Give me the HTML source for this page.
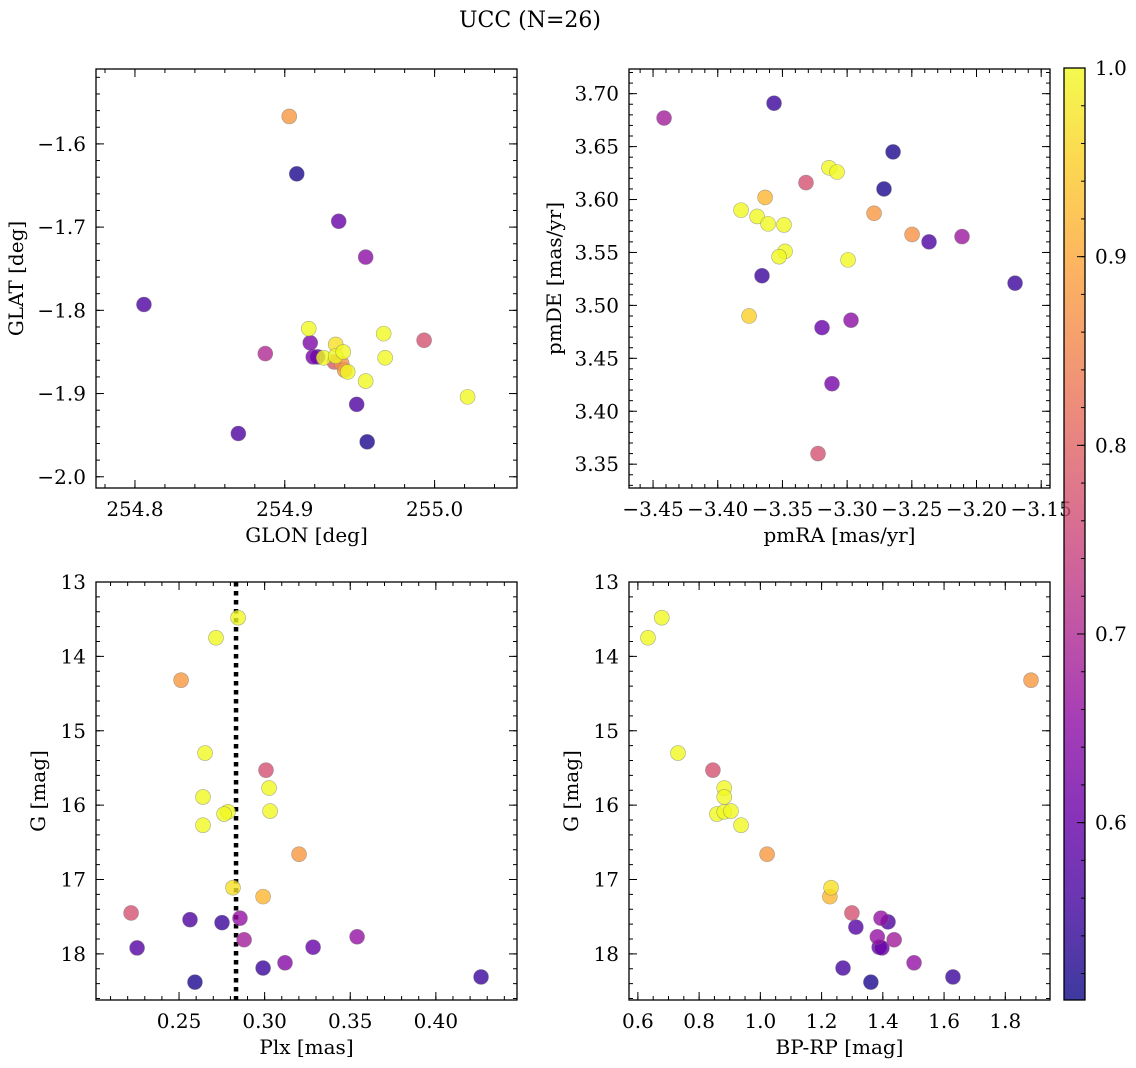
<!DOCTYPE html>
<html><head><meta charset="utf-8">
<style>
body{margin:0;background:#fff;}
svg{display:block;font-family:"DejaVu Serif","Liberation Serif",serif;}
</style></head>
<body>
<svg id="fig" width="1136" height="1068" viewBox="0 0 1136 1068" xmlns="http://www.w3.org/2000/svg">
<text x="530" y="27" font-size="22" text-anchor="middle">UCC (N=26)</text>
</svg>
<script>
// ---- data ----
const glon = [254.903,254.908,254.936,254.954,254.806,254.887,254.869,254.948,254.955,254.993,255.022,254.916,254.917,254.919,254.922,254.926,254.934,254.934,254.939,254.933,254.938,254.940,254.942,254.966,254.967,254.954];
const glat = [-1.567,-1.636,-1.693,-1.736,-1.793,-1.852,-1.948,-1.913,-1.958,-1.836,-1.904,-1.822,-1.839,-1.856,-1.856,-1.857,-1.841,-1.855,-1.850,-1.862,-1.864,-1.872,-1.874,-1.828,-1.857,-1.885];
const probA = [0.88,0.52,0.6,0.65,0.57,0.7,0.57,0.57,0.52,0.77,1.0,1.0,0.63,0.62,0.58,1.0,0.97,1.0,1.0,0.78,0.87,0.88,1.0,1.0,1.0,1.0];

const pmra = [-3.4415,-3.3565,-3.2645,-3.2715,-3.3318,-3.314,-3.3078,-3.3634,-3.382,-3.3696,-3.3611,-3.3488,-3.2792,-3.2498,-3.2367,-3.2112,-3.348,-3.3526,-3.2993,-3.3658,-3.1702,-3.3758,-3.297,-3.3194,-3.3117,-3.3225];
const pmde = [3.677,3.691,3.645,3.610,3.616,3.630,3.626,3.602,3.590,3.584,3.577,3.576,3.587,3.567,3.560,3.565,3.551,3.546,3.543,3.528,3.521,3.490,3.486,3.479,3.426,3.360];
const probB = [0.68,0.55,0.52,0.52,0.77,1.0,1.0,0.92,1.0,1.0,1.0,1.0,0.88,0.87,0.57,0.67,1.0,1.0,1.0,0.55,0.55,0.95,0.65,0.6,0.62,0.77];

const plx = [0.2845,0.2716,0.2512,0.2652,0.3008,0.3026,0.2640,0.3032,0.2786,0.2763,0.2640,0.3201,0.2815,0.2991,0.2220,0.2564,0.2751,0.2856,0.2880,0.3540,0.2255,0.3283,0.3119,0.2991,0.2593,0.4264];
const gmagC = [13.48,13.75,14.32,15.30,15.53,15.77,15.89,16.08,16.09,16.12,16.27,16.66,17.11,17.23,17.45,17.54,17.58,17.52,17.81,17.77,17.92,17.91,18.12,18.19,18.38,18.31];
const probC = [1.0,1.0,0.88,1.0,0.77,1.0,1.0,1.0,1.0,1.0,1.0,0.88,0.97,0.92,0.77,0.57,0.55,0.66,0.68,0.66,0.58,0.6,0.64,0.55,0.52,0.55];
const plxLine = [0.2833];

const bprp = [0.633,0.678,0.731,1.884,0.845,0.882,0.882,0.858,0.882,0.904,0.937,1.022,1.231,1.227,1.299,1.312,1.394,1.417,1.437,1.382,1.388,1.397,1.502,1.27,1.361,1.629];
const gmagD = [13.75,13.48,15.30,14.32,15.53,15.77,15.89,16.12,16.09,16.08,16.27,16.66,17.11,17.23,17.45,17.64,17.52,17.57,17.81,17.77,17.91,17.92,18.12,18.19,18.38,18.31];
const probD = [1.0,1.0,1.0,0.88,0.77,1.0,1.0,1.0,1.0,1.0,1.0,0.88,0.97,0.92,0.77,0.58,0.66,0.57,0.68,0.66,0.6,0.6,0.66,0.56,0.52,0.55];

const ticksTLx = [254.8,254.9,255.0], ticksTLy = [-1.6,-1.7,-1.8,-1.9,-2.0];
const ticksTRx = [-3.45,-3.40,-3.35,-3.30,-3.25,-3.20,-3.15], ticksTRy = [3.35,3.40,3.45,3.50,3.55,3.60,3.65,3.70];
const ticksBLx = [0.25,0.30,0.35,0.40], ticksGy = [13,14,15,16,17,18];
const ticksBRx = [0.6,0.8,1.0,1.2,1.4,1.6,1.8];
const cbTicks = [0.6,0.7,0.8,0.9,1.0];

// ---- rendering ----
const NS = "http://www.w3.org/2000/svg";
const svg = document.getElementById('fig');
function mk(tag, attrs, parent){const e=document.createElementNS(NS,tag);for(const k in attrs)e.setAttribute(k,attrs[k]);(parent||svg).appendChild(e);return e;}
const stops=["#0d0887","#41049d","#6a00a8","#8f0da4","#b12a90","#cc4778","#e16462","#f2844b","#fca636","#fcce25","#f0f921"];
function hex(h){return [1,3,5].map(i=>parseInt(h.substr(i,2),16));}
function plasma(t){t=Math.max(0,Math.min(1,t));const f=t*10,i=Math.min(9,Math.floor(f)),r=f-i;const a=hex(stops[i]),b=hex(stops[i+1]);return "rgb("+a.map((v,k)=>Math.round(v+(b[k]-v)*r)).join(",")+")";}
const VMIN=0.506,VMAX=1.0;
function fmt(v,d){return (v<0?"\u2212":"")+Math.abs(v).toFixed(d);}
const FS=20;

function panel(p){
  const g=mk('g',{});  
  const sx=v=>p.x0+(v-p.xmin)/(p.xmax-p.xmin)*(p.x1-p.x0);
  const sy=v=>p.inv? p.y0+(v-p.ymin)/(p.ymax-p.ymin)*(p.y1-p.y0) : p.y1-(v-p.ymin)/(p.ymax-p.ymin)*(p.y1-p.y0);
  const tg=mk('g',{stroke:'#000','stroke-width':1},g);
   
  const eps=1e-9;
  for(let v=Math.ceil(p.xmin/p.xminor)*p.xminor; v<=p.xmax+eps; v+=p.xminor){const X=sx(v);
    mk('line',{x1:X,x2:X,y1:p.y1,y2:p.y1-4},tg);mk('line',{x1:X,x2:X,y1:p.y0,y2:p.y0+4},tg);}
  for(let v=Math.ceil(p.ymin/p.yminor)*p.yminor; v<=p.ymax+eps; v+=p.yminor){const Y=sy(v);
    mk('line',{x1:p.x0,x2:p.x0+4,y1:Y,y2:Y},tg);mk('line',{x1:p.x1,x2:p.x1-4,y1:Y,y2:Y},tg);}
  p.xt.forEach(v=>{const X=sx(v);
    mk('line',{x1:X,x2:X,y1:p.y1,y2:p.y1-8},tg);mk('line',{x1:X,x2:X,y1:p.y0,y2:p.y0+8},tg);
    const t=mk('text',{x:X,y:p.y1+28,'font-size':FS,'text-anchor':'middle'},g);t.textContent=fmt(v,p.xd);
    });
  p.yt.forEach(v=>{const Y=sy(v);
    mk('line',{x1:p.x0,x2:p.x0+8,y1:Y,y2:Y},tg);mk('line',{x1:p.x1,x2:p.x1-8,y1:Y,y2:Y},tg);
    const t=mk('text',{x:p.x0-10,y:Y+7,'font-size':FS,'text-anchor':'end'},g);t.textContent=fmt(v,p.yd);
    });
  if(p.vline){p.vline.forEach(v=>{const l=mk('line',{x1:sx(v),x2:sx(v),y1:p.y0,y2:p.y1,stroke:'#000','stroke-width':4.5,'stroke-dasharray':'4.5 4.5'},g);
    });}
  const order=p.xs.map((_,i)=>i).sort((a,b)=>p.cs[a]-p.cs[b]);
  order.forEach(i=>{const c=mk('circle',{cx:sx(p.xs[i]),cy:sy(p.ys[i]),r:7.5,fill:plasma((p.cs[i]-VMIN)/(VMAX-VMIN)),'fill-opacity':0.8,stroke:'#777','stroke-opacity':0.6,'stroke-width':0.6},g);
    });
  const fr=mk('rect',{x:p.x0,y:p.y0,width:p.x1-p.x0,height:p.y1-p.y0,fill:'none',stroke:'#000','stroke-width':1.3},g);
  
  const xl=mk('text',{x:(p.x0+p.x1)/2,y:p.y1+54,'font-size':FS,'text-anchor':'middle'},g);xl.textContent=p.xlab;
  
  const yl=mk('text',{x:0,y:0,'font-size':FS,'text-anchor':'middle',transform:`translate(${p.ylx},${(p.y0+p.y1)/2}) rotate(-90)`},g);yl.textContent=p.ylab;
  
}

panel({name:'glon-glat-panel',x0:96,x1:517,y0:69,y1:488,xmin:254.774,xmax:255.055,ymin:-2.0135,ymax:-1.51,
  xs:glon,ys:glat,cs:probA,xt:ticksTLx,yt:ticksTLy,xd:1,yd:1,xminor:0.02,yminor:0.02,xlab:'GLON [deg]',ylab:'GLAT [deg]',ylx:23});
panel({name:'proper-motion-panel',x0:629,x1:1050,y0:69,y1:488,xmin:-3.4686,xmax:-3.1432,ymin:3.3275,ymax:3.7233,
  xs:pmra,ys:pmde,cs:probB,xt:ticksTRx,yt:ticksTRy,xd:2,yd:2,xminor:0.01,yminor:0.01,xlab:'pmRA [mas/yr]',ylab:'pmDE [mas/yr]',ylx:561});
panel({name:'plx-g-panel',x0:96,x1:517,y0:582,y1:1000,xmin:0.2015,xmax:0.4474,ymin:13,ymax:18.62,inv:true,
  xs:plx,ys:gmagC,cs:probC,xt:ticksBLx,yt:ticksGy,xd:2,yd:0,xminor:0.01,yminor:0.2,xlab:'Plx [mas]',ylab:'G [mag]',ylx:45,vline:plxLine});
panel({name:'cmd-panel',x0:629,x1:1050,y0:582,y1:1000,xmin:0.571,xmax:1.946,ymin:13,ymax:18.62,inv:true,
  xs:bprp,ys:gmagD,cs:probD,xt:ticksBRx,yt:ticksGy,xd:1,yd:0,xminor:0.05,yminor:0.2,xlab:'BP-RP [mag]',ylab:'G [mag]',ylx:578});

const cb=mk('g',{});
const defs=mk('defs',{},cb);const lg=mk('linearGradient',{id:'cbg',x1:0,y1:1,x2:0,y2:0},defs);
for(let i=0;i<=20;i++){mk('stop',{offset:i/20,'stop-color':plasma(i/20)},lg);}
const CB={x0:1064,x1:1085,y0:68,y1:1000};
const cy=v=>CB.y1-(v-VMIN)/(VMAX-VMIN)*(CB.y1-CB.y0);
mk('rect',{x:CB.x0,y:CB.y0,width:CB.x1-CB.x0,height:CB.y1-CB.y0,fill:'url(#cbg)','fill-opacity':0.8},cb);
for(let v=0.52;v<=1.0001;v+=0.02){mk('line',{x1:CB.x1,x2:CB.x1-4,y1:cy(v),y2:cy(v),stroke:'#000'},cb);}
cbTicks.forEach(v=>{mk('line',{x1:CB.x1,x2:CB.x1-8,y1:cy(v),y2:cy(v),stroke:'#000'},cb);
  const t=mk('text',{x:CB.x1+10,y:cy(v)+7,'font-size':FS},cb);t.textContent=v.toFixed(1);
  });
mk('rect',{x:CB.x0,y:CB.y0,width:CB.x1-CB.x0,height:CB.y1-CB.y0,fill:'none',stroke:'#000','stroke-width':1.3},cb);
</script>
</body></html>
